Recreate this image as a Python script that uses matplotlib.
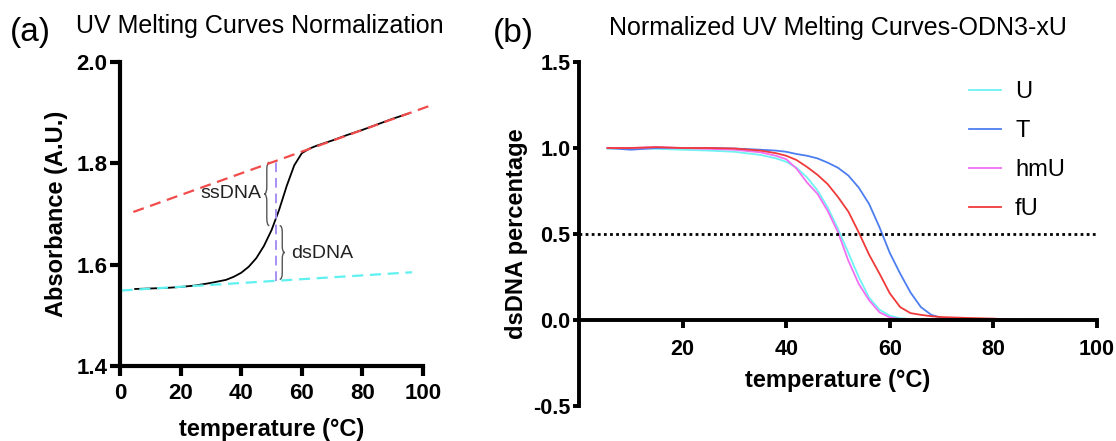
import matplotlib
matplotlib.use("Agg")
import matplotlib.pyplot as plt
from matplotlib.path import Path
from matplotlib.patches import PathPatch

plt.rcParams['font.family'] = ['Liberation Sans', 'DejaVu Sans']

# ---- panel (a): raw melting curve with baselines ----
temp_a = [5, 10, 15, 20, 25, 30, 35, 37.5, 40, 42.5, 45, 47.5, 50, 52.5,
          55, 57.5, 60, 62.5, 65, 70, 75, 80, 85, 90, 95]
absorb = [1.552, 1.553, 1.554, 1.556, 1.559, 1.564, 1.570, 1.576, 1.584,
          1.596, 1.613, 1.637, 1.668, 1.708, 1.755, 1.796, 1.820, 1.829,
          1.835, 1.845, 1.856, 1.866, 1.877, 1.888, 1.898]
upper_x = [4.4, 103.4]
upper_y = [1.704, 1.916]
lower_x = [0.5, 96.4]
lower_y = [1.549, 1.585]
tm_x = 51.5
tm_low, tm_mid, tm_high = 1.568, 1.677, 1.805

# ---- panel (b): normalized curves ----
temp_b = [5.5, 10, 15, 20, 25, 30, 35, 38, 40, 42, 44, 46, 48, 50, 52, 54,
          56, 58, 60, 62, 64, 66, 68, 70, 75, 80, 85, 90, 95]
u_vals = [0.995, 1.0, 0.995, 0.99, 0.985, 0.978, 0.96, 0.94, 0.92, 0.885,
          0.83, 0.755, 0.655, 0.53, 0.39, 0.25, 0.13, 0.06, 0.025, 0.01,
          0.005, 0.003, 0.0, 0.0, -0.003, -0.005, -0.003, 0.0, 0.0]
t_vals = [1.0, 0.99, 1.0, 1.0, 1.0, 0.997, 0.99, 0.985, 0.978, 0.965,
          0.955, 0.94, 0.915, 0.885, 0.84, 0.77, 0.675, 0.54, 0.39, 0.27,
          0.16, 0.075, 0.03, 0.012, 0.005, 0.003, 0.0, 0.0, 0.0]
hmu_vals = [1.0, 1.0, 1.005, 1.0, 0.995, 0.99, 0.975, 0.955, 0.935, 0.88,
            0.8, 0.735, 0.635, 0.51, 0.345, 0.21, 0.115, 0.045, 0.015,
            0.005, 0.0, -0.002, -0.004, -0.005, -0.005, -0.005, -0.005,
            0.0, 0.0]
fu_vals = [1.0, 1.0, 1.005, 1.0, 1.0, 0.997, 0.985, 0.97, 0.955, 0.93,
           0.89, 0.845, 0.79, 0.715, 0.63, 0.51, 0.38, 0.27, 0.155, 0.075,
           0.04, 0.03, 0.022, 0.017, 0.012, 0.008, 0.0, 0.003, 0.0]
series_b = [("U", u_vals, "#6ef2f2"), ("T", t_vals, "#4d7ef0"),
            ("hmU", hmu_vals, "#f26ef2"), ("fU", fu_vals, "#f03a3a")]


def brace(ax, x_end, x_tip, y0, y1, color="#555555"):
    # curly brace between y0 and y1, pointing towards x_tip
    xm = (x_end + x_tip) / 2
    ym = (y0 + y1) / 2
    d = (y1 - y0) * 0.12
    verts = [(x_end, y1), (xm, y1), (xm, y1 - d), (xm, ym + d),
             (xm, ym), (x_tip, ym), (xm, ym), (xm, ym - d),
             (xm, y0 + d), (xm, y0), (x_end, y0)]
    codes = [Path.MOVETO, Path.CURVE3, Path.CURVE3, Path.LINETO,
             Path.CURVE3, Path.CURVE3, Path.CURVE3, Path.CURVE3,
             Path.LINETO, Path.CURVE3, Path.CURVE3]
    ax.add_patch(PathPatch(Path(verts, codes), fill=False, color=color,
                           lw=1.0))


fig = plt.figure(figsize=(11.16, 4.41), dpi=100)

# panel a
ax1 = fig.add_axes([120 / 1116, 75 / 441, 303 / 1116, 304 / 441])
ax1.plot(temp_a, absorb, color="black", lw=1.3)
ax1.plot(upper_x, upper_y, color="#f24b4b", lw=1.6, ls=(0, (5, 3)),
         clip_on=False)
ax1.plot(lower_x, lower_y, color="#5ff0f0", lw=1.6, ls=(0, (5, 3)))
ax1.plot([tm_x, tm_x], [tm_low, tm_high], color="#a88ff5", lw=1.4,
         ls=(0, (5, 3)))
brace(ax1, 49.3, 47.6, tm_mid, tm_high - 0.003)
brace(ax1, 52.7, 54.4, tm_low + 0.003, tm_mid)
ax1.text(46.8, (tm_mid + tm_high) / 2, "ssDNA", ha="right", va="center",
         fontsize=14, color="#222222")
ax1.text(56.5, (tm_low + tm_mid) / 2, "dsDNA", ha="left", va="center",
         fontsize=14, color="#222222")
ax1.set_xlim(0, 100)
ax1.set_ylim(1.4, 2.0)
ax1.set_xticks([0, 20, 40, 60, 80, 100])
ax1.set_yticks([1.4, 1.6, 1.8, 2.0])
ax1.set_yticklabels(["1.4", "1.6", "1.8", "2.0"])
for s in ["top", "right"]:
    ax1.spines[s].set_visible(False)
for s in ["left", "bottom"]:
    ax1.spines[s].set_linewidth(3)
ax1.tick_params(width=3, length=7, labelsize=16)
ax1.tick_params(axis="x", pad=5)
ax1.tick_params(axis="y", pad=2)
for lab in ax1.get_xticklabels() + ax1.get_yticklabels():
    lab.set_fontweight("bold")
ax1.set_xlabel("temperature (°C)", fontsize=17, fontweight="bold",
               labelpad=10)
ax1.set_ylabel("Absorbance (A.U.)", fontsize=17, fontweight="bold",
               labelpad=6)

# panel b
ax2 = fig.add_axes([579 / 1116, 35 / 441, 518 / 1116, 344 / 441])
for name, vals, col in series_b:
    ax2.plot(temp_b, vals, color=col, lw=1.3, label=name)
ax2.plot([0, 100], [0.5, 0.5], color="black", lw=2, ls=(0, (1, 1.2)))
ax2.set_xlim(0, 100)
ax2.set_ylim(-0.5, 1.5)
ax2.set_xticks([20, 40, 60, 80, 100])
ax2.set_yticks([-0.5, 0.0, 0.5, 1.0, 1.5])
ax2.set_yticklabels(["-0.5", "0.0", "0.5", "1.0", "1.5"])
ax2.spines["bottom"].set_position(("data", 0))
for s in ["top", "right"]:
    ax2.spines[s].set_visible(False)
for s in ["left", "bottom"]:
    ax2.spines[s].set_linewidth(2.8)
ax2.tick_params(width=2.8, labelsize=15.5)
ax2.tick_params(axis="x", length=6, pad=8)
ax2.tick_params(axis="y", length=4.5, pad=1.5)
for lab in ax2.get_xticklabels() + ax2.get_yticklabels():
    lab.set_fontweight("bold")
ax2.set_ylabel("dsDNA percentage", fontsize=17, fontweight="bold",
               labelpad=4)
ax2.text(50, -0.35, "temperature (°C)", ha="center", va="center",
         fontsize=17, fontweight="bold")
ax2.legend(loc="upper left", bbox_to_anchor=(957 / 1116, 1 - 69 / 441),
           bbox_transform=fig.transFigure, frameon=False, fontsize=17,
           handlelength=1.36, handletextpad=0.6, labelspacing=0.72,
           borderpad=0)

# titles
fig.text(10 / 1116, 1 - 41 / 441, "(a)", fontsize=24, va="baseline")
fig.text(76 / 1116, 1 - 33 / 441, "UV Melting Curves Normalization",
         fontsize=18, va="baseline")
fig.text(493 / 1116, 1 - 42 / 441, "(b)", fontsize=24, va="baseline")
fig.text(838 / 1116, 1 - 35 / 441, "Normalized UV Melting Curves-ODN3-xU",
         fontsize=18, va="baseline", ha="center")

fig.savefig("out.png", dpi=100)
